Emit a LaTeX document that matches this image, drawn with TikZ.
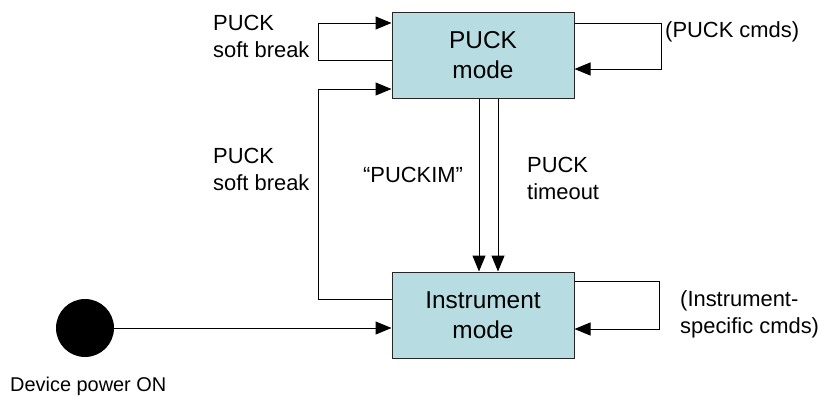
\documentclass[tikz,border=0pt]{standalone}
\usepackage{fontspec}
\setmainfont{Liberation Sans}
\usetikzlibrary{arrows.meta,positioning}
\definecolor{modecyan}{RGB}{183,221,226}

\begin{document}
\begin{tikzpicture}[x=1bp,y=-1bp,
    modebox/.style={draw=black!85,fill=modecyan,line width=1bp,minimum width=182bp,
      minimum height=86bp,align=center,font=\fontsize{24.5}{30}\selectfont},
    lbl/.style={align=left,inner sep=0pt,font=\fontsize{22}{27}\selectfont},
    arr/.style={line width=1bp,-{Triangle[length=16bp,width=13bp]}}]
  \useasboundingbox (0,0) rectangle (828,405);
  % Mode boxes (cyan)
  \node[modebox] (puck) at (483,55) {PUCK\\mode};
  \node[modebox] (instr) at (483,315) {Instrument\\mode};
  % Power-on dot
  \node[circle,fill=black,minimum size=58bp,inner sep=0pt] (dot) at (85,328) {};
  \node[lbl,anchor=west,font=\fontsize{20}{24}\selectfont] (pwr) at (10,386) {Device power ON};
  \draw[arr] (dot) -- (dot -| instr.west);
  % Soft break loops
  \draw[arr] ([yshift=-5bp]puck.west) -- ++(-73,0) |- ([yshift=32bp]puck.west);
  \node[lbl,anchor=west] (sbtop) at (213,36) {PUCK\\soft break};
  \draw[arr] ([yshift=16bp]instr.west) -- ++(-73,0) |- ([yshift=-34bp]puck.west);
  \node[lbl,anchor=west] (sbmid) at (213,169) {PUCK\\soft break};
  % Command loops
  \draw[arr] ([yshift=32bp]puck.east) -- ++(87,0) |- ([yshift=-14bp]puck.east);
  \node[lbl,anchor=west] (pcmds) at (665,32) {(PUCK cmds)};
  \draw[arr] ([yshift=34bp]instr.east) -- ++(85,0) |- ([yshift=-14bp]instr.east);
  \node[lbl,anchor=west] (icmds) at (680,314) {(Instrument-\\specific cmds)};
  % PUCK mode -> Instrument mode
  \draw[arr] ([xshift=-4bp]puck.south) -- ([xshift=-4bp]instr.north);
  \draw[arr] ([xshift=15bp]puck.south) -- ([xshift=15bp]instr.north);
  \node[lbl] (puckim) at (413,175) {“PUCKIM”};
  \node[lbl,anchor=west] (tmo) at (527,178) {PUCK\\timeout};
\end{tikzpicture}
\end{document}
